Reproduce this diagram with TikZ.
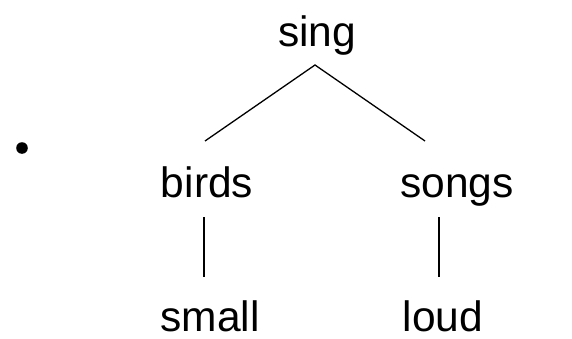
\documentclass[tikz,border=0pt]{standalone}
\usepackage{fontspec}
\setmainfont{Liberation Sans}
\begin{document}
\begin{tikzpicture}[x=1pt,y=1pt,
  word/.style={anchor=base,inner sep=0pt,font=\fontsize{42.5}{50}\selectfont},
  edge/.style={line width=1.3pt}]
\useasboundingbox (0,0) rectangle (572,338);
\fill (22,190) circle (5.8);
\node[word] (sing) at (317,291) {sing};
\node[word] (birds) at (207,141) {birds};
\node[word] (songs) at (457,141) {songs};
\node[word] (small) at (210,7) {small};
\node[word] (loud) at (443,7) {loud};
\coordinate (apex) at (315,273);
\coordinate (lend) at (205,197);
\coordinate (rend) at (425,197);
\coordinate (bt) at (204,121);
\coordinate (bb) at (204,61);
\coordinate (st) at (439,121);
\coordinate (sb) at (439,61);
\draw[edge] (lend) -- (apex) -- (rend);
\draw[edge] (bt) -- (bb);
\draw[edge] (st) -- (sb);
\end{tikzpicture}
\end{document}
